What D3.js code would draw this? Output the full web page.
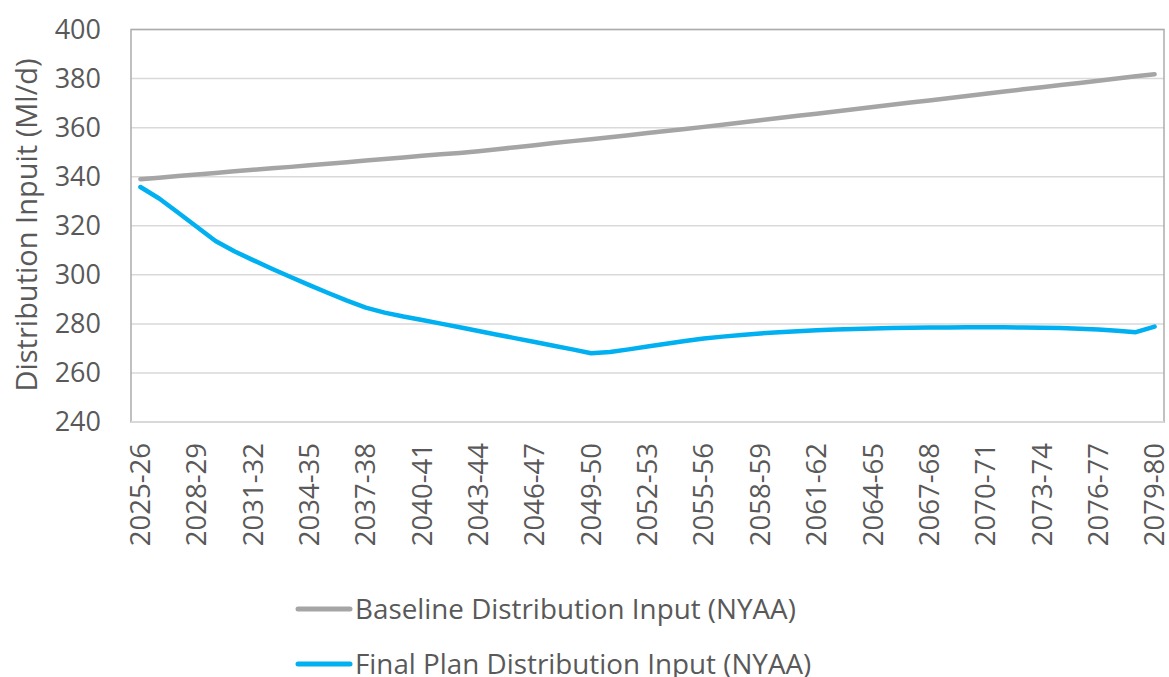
<!DOCTYPE html>
<html>
<head>
<meta charset="utf-8">
<script src="https://cdn.jsdelivr.net/npm/d3@7"></script>
<style>
  html, body { margin: 0; padding: 0; background: #ffffff; }
  svg { display: block; }
  text { font-family: "Open Sans", Lato, sans-serif; fill: #595959; }
</style>
</head>
<body>
<svg id="chart" width="1169" height="677"></svg>
<script>
// Financial years shown on the x axis
const years = [
  "2025-26","2026-27","2027-28","2028-29","2029-30","2030-31","2031-32","2032-33","2033-34","2034-35",
  "2035-36","2036-37","2037-38","2038-39","2039-40","2040-41","2041-42","2042-43","2043-44","2044-45",
  "2045-46","2046-47","2047-48","2048-49","2049-50","2050-51","2051-52","2052-53","2053-54","2054-55",
  "2055-56","2056-57","2057-58","2058-59","2059-60","2060-61","2061-62","2062-63","2063-64","2064-65",
  "2065-66","2066-67","2067-68","2068-69","2069-70","2070-71","2071-72","2072-73","2073-74","2074-75",
  "2075-76","2076-77","2077-78","2078-79","2079-80"
];

// Baseline distribution input (Ml/d)
const baseline = [
  339.0, 339.6, 340.3, 340.9, 341.5, 342.2, 342.8, 343.4, 344.0, 344.7,
  345.3, 345.9, 346.6, 347.2, 347.8, 348.5, 349.1, 349.7, 350.4, 351.2,
  352.0, 352.8, 353.7, 354.5, 355.3, 356.1, 356.9, 357.8, 358.6, 359.4,
  360.3, 361.2, 362.1, 363.0, 363.9, 364.8, 365.7, 366.6, 367.5, 368.4,
  369.3, 370.2, 371.1, 372.0, 372.9, 373.8, 374.7, 375.6, 376.5, 377.4,
  378.2, 379.1, 380.0, 380.9, 381.8
];

// Final plan distribution input (Ml/d)
const finalPlan = [
  335.8, 331.1, 325.4, 319.6, 313.8, 309.6, 306.0, 302.5, 299.1, 295.8,
  292.6, 289.5, 286.6, 284.6, 283.0, 281.6, 280.1, 278.6, 277.1, 275.6,
  274.1, 272.6, 271.1, 269.6, 268.0, 268.5, 269.6, 270.8, 271.9, 273.0,
  274.0, 274.8, 275.5, 276.1, 276.6, 277.0, 277.4, 277.7, 277.9, 278.1,
  278.3, 278.4, 278.5, 278.5, 278.6, 278.6, 278.6, 278.5, 278.4, 278.3,
  278.0, 277.7, 277.2, 276.6, 278.9
];

const yTicks = [240, 260, 280, 300, 320, 340, 360, 380, 400];
const yTitle = "Distribution Inpuit (Ml/d)";
const seriesNames = ["Baseline Distribution Input (NYAA)", "Final Plan Distribution Input (NYAA)"];
const seriesColors = ["#a5a5a5", "#00b0f0"];

const svg = d3.select("#chart");
const plot = { left: 131, right: 1164, top: 29.5, bottom: 422 };

const x = d3.scaleBand().domain(years).range([plot.left, plot.right]).padding(0);
const y = d3.scaleLinear().domain([240, 400]).range([plot.bottom, plot.top]);
const cx = d => x(d) + x.bandwidth() / 2;

// Horizontal gridlines
svg.append("g")
  .selectAll("line")
  .data(yTicks)
  .join("line")
  .attr("x1", plot.left).attr("x2", plot.right)
  .attr("y1", d => y(d)).attr("y2", d => y(d))
  .attr("stroke", "#d9d9d9").attr("stroke-width", 1.5);

// Plot area frame
svg.append("rect")
  .attr("x", plot.left).attr("y", plot.top)
  .attr("width", plot.right - plot.left).attr("height", plot.bottom - plot.top)
  .attr("fill", "none").attr("stroke", "#acacac").attr("stroke-width", 1.5);

// Category axis line
svg.append("line")
  .attr("x1", plot.left).attr("x2", plot.right)
  .attr("y1", plot.bottom).attr("y2", plot.bottom)
  .attr("stroke", "#d9d9d9").attr("stroke-width", 2);

// Value axis labels
const yAxis = d3.axisLeft(y).tickValues(yTicks).tickSize(0).tickPadding(0);
const gy = svg.append("g").attr("transform", `translate(${plot.left - 30},0)`).call(yAxis);
gy.select(".domain").remove();
gy.selectAll("text")
  .style("font-family", "'Open Sans', Lato, sans-serif")
  .style("font-size", "27px")
  .attr("fill", "#595959");

// Category labels, every third year, rotated
const xAxis = d3.axisBottom(x)
  .tickValues(years.filter((d, i) => i % 3 === 0))
  .tickSize(0).tickPadding(0);
const gx = svg.append("g").attr("transform", `translate(0,${plot.bottom + 21})`).call(xAxis);
gx.select(".domain").remove();
gx.selectAll("text")
  .style("font-family", "'Open Sans', Lato, sans-serif")
  .style("font-size", "27.5px")
  .attr("fill", "#595959")
  .attr("transform", "rotate(-90)")
  .attr("text-anchor", "end")
  .attr("dy", "0.35em")
  .attr("x", 0).attr("y", 0);

// Axis title
svg.append("text")
  .attr("transform", "translate(27,225) rotate(-90)")
  .attr("text-anchor", "middle")
  .attr("dy", "0.35em")
  .style("font-size", "29px")
  .text(yTitle);

// Series lines (straight segments between yearly values)
const line = d3.line()
  .x((d, i) => cx(years[i]))
  .y(d => y(d));

[baseline, finalPlan].forEach((vals, k) => {
  svg.append("path")
    .datum(vals)
    .attr("d", line)
    .attr("fill", "none")
    .attr("stroke", seriesColors[k])
    .attr("stroke-width", 4.5)
    .attr("stroke-linecap", "round")
    .attr("stroke-linejoin", "round");
});

// Legend
const legend = svg.append("g");
const legendRows = [609, 664];
seriesNames.forEach((name, k) => {
  legend.append("line")
    .attr("x1", 298).attr("x2", 350)
    .attr("y1", legendRows[k]).attr("y2", legendRows[k])
    .attr("stroke", seriesColors[k]).attr("stroke-width", 5)
    .attr("stroke-linecap", "round");
  legend.append("text")
    .attr("x", 355).attr("y", legendRows[k])
    .attr("dy", "0.35em")
    .style("font-size", "27.8px")
    .text(name);
});
</script>
</body>
</html>
